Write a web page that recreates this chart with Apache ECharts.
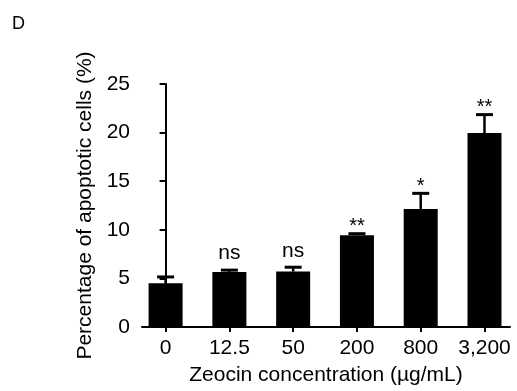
<!DOCTYPE html>
<html>
<head>
<meta charset="utf-8">
<script src="https://cdn.jsdelivr.net/npm/echarts@6/dist/echarts.min.js"></script>
<style>
  html, body { margin: 0; padding: 0; background: #fff; }
  #chart-box { width: 517px; height: 391px; }
</style>
</head>
<body>
<div id="chart-box"></div>
<script>
// concentrations (µg/mL)
const categories = ['0', '12.5', '50', '200', '800', '3,200'];
// mean % apoptotic cells
const means = [4.5, 5.65, 5.7, 9.45, 12.15, 19.95];
// error (SD, upper only)
const errors = [0.65, 0.2, 0.45, 0.15, 1.6, 1.9];
// significance marks
const sigLabels = ['', 'ns', 'ns', '**', '*', '**'];
const yTicks = [0, 5, 10, 15, 20, 25];

const FONT = '"Liberation Sans", Arial, sans-serif';

let barData = means.map(function (v, i) { return [i, v]; });
let errData = means.map(function (v, i) { return [i, v, errors[i]]; });

let myChart = echarts.init(document.getElementById('chart-box'));

let option = {
    animation: false,
    title: {
        text: 'D',
        left: 7,
        top: 10,
        textStyle: { fontFamily: FONT, fontSize: 18, fontWeight: 'normal', color: '#000' }
    },
    grid: { left: 142, right: 7, top: 84, bottom: 63 },
    xAxis: {
        type: 'value',
        min: -0.37,
        max: 5.4,
        splitLine: { show: false },
        axisLine: { lineStyle: { color: '#000', width: 2 } },
        axisTick: { show: true, length: 5, customValues: [0, 1, 2, 3, 4, 5], lineStyle: { color: '#000', width: 2 } },
        axisLabel: {
            customValues: [0, 1, 2, 3, 4, 5],
            margin: 11,
            fontFamily: FONT, fontSize: 21, color: '#000',
            formatter: function (v) { return categories[Math.round(v)]; }
        },
        name: 'Zeocin concentration (µg/mL)',
        nameLocation: 'middle',
        nameGap: 38,
        nameTextStyle: { fontFamily: FONT, fontSize: 21, color: '#000' }
    },
    yAxis: {
        type: 'value',
        min: 0,
        max: 25,
        interval: 5,
        splitLine: { show: false },
        axisLine: { show: true, lineStyle: { color: '#000', width: 2 } },
        axisTick: { show: true, length: 6, lineStyle: { color: '#000', width: 2 } },
        axisLabel: {
            margin: 12,
            fontFamily: FONT, fontSize: 21, color: '#000',
            formatter: function (v) { return yTicks.indexOf(v) >= 0 ? String(v) : ''; }
        },
        name: 'Percentage of apoptotic cells (%)',
        nameLocation: 'middle',
        nameGap: 43,
        nameTextStyle: { fontFamily: FONT, fontSize: 21, color: '#000' }
    },
    series: [
        {
            type: 'bar',
            data: barData,
            barWidth: 34,
            itemStyle: { color: '#000' }
        },
        {
            type: 'custom',
            data: errData,
            z: 5,
            renderItem: function (params, api) {
                let x = api.value(0);
                let m = api.value(1);
                let e = api.value(2);
                let base = api.coord([x, m]);
                let top = api.coord([x, m + e]);
                let lbl = sigLabels[params.dataIndex];
                let isStar = lbl.indexOf('*') >= 0;
                return {
                    type: 'group',
                    children: [
                        {
                            type: 'line',
                            shape: { x1: base[0], y1: base[1], x2: top[0], y2: top[1] },
                            style: { stroke: '#000', lineWidth: 2.5 }
                        },
                        {
                            type: 'line',
                            shape: { x1: top[0] - 8.5, y1: top[1], x2: top[0] + 8.5, y2: top[1] },
                            style: { stroke: '#000', lineWidth: 3 }
                        },
                        {
                            type: 'text',
                            style: {
                                text: lbl,
                                x: top[0],
                                y: isStar ? top[1] - 17 : top[1] - 6,
                                align: 'center',
                                verticalAlign: isStar ? 'top' : 'bottom',
                                fontFamily: FONT,
                                fontSize: isStar ? 20 : 21,
                                fill: '#000'
                            }
                        }
                    ]
                };
            }
        }
    ]
};

myChart.setOption(option, true);
</script>
</body>
</html>
